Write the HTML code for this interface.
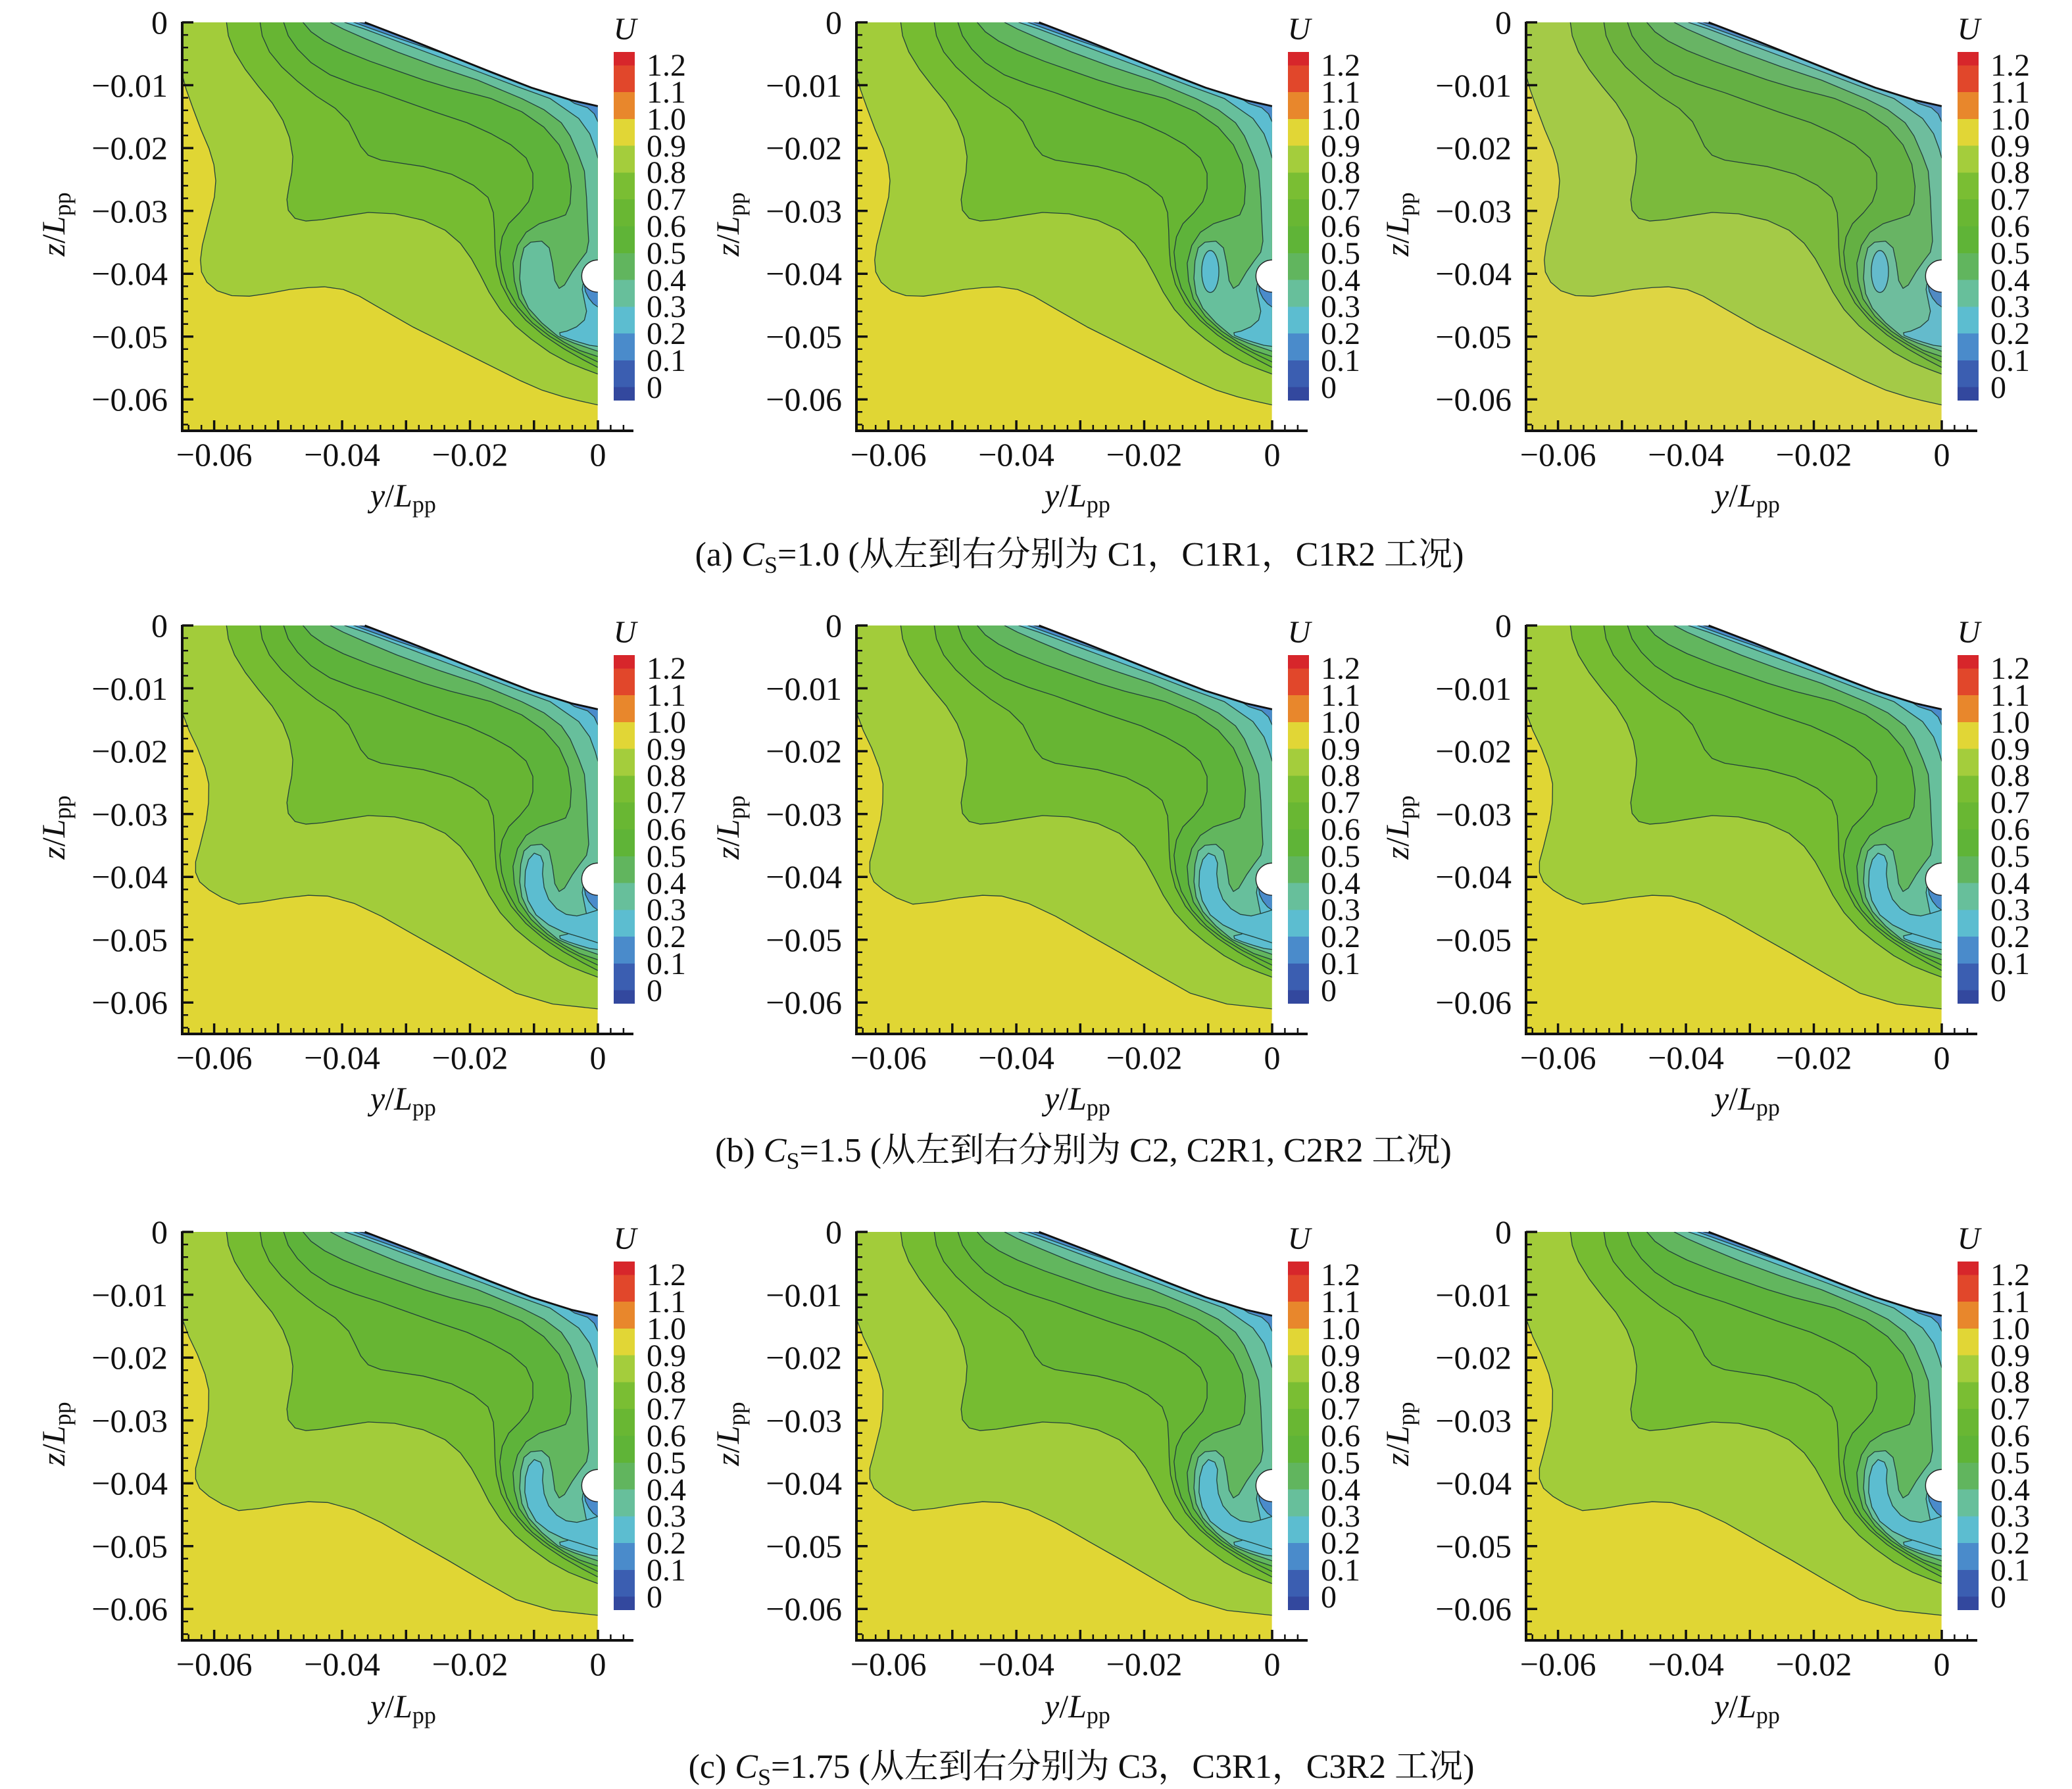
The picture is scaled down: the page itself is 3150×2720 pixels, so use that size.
<!DOCTYPE html>
<html>
<head>
<meta charset="utf-8">
<style>
html,body{margin:0;padding:0;background:#fff;}
svg{display:block;}
text{fill:#111;}
.t{font-size:50px;}
.cb{font-size:48px;}
.e{text-anchor:end;}
.m{text-anchor:middle;}
.i{font-style:italic;}
.s{font-size:36px;}
.cap{font-size:52px;}
.sub{font-size:36px;}
</style>
</head>
<body>
<svg xmlns="http://www.w3.org/2000/svg" width="3150" height="2720" viewBox="0 0 3150 2720" font-family="'Liberation Serif','Noto Serif CJK SC',serif">
<rect width="3150" height="2720" fill="#fff"/>
<defs>
<filter id="mute" x="-5%" y="-5%" width="110%" height="110%" color-interpolation-filters="sRGB"><feColorMatrix type="saturate" values="0.9"/></filter>
<clipPath id="cR"><path d="M0,0 L680,0 L850,65 L1000,125 L1150,185 L1300,243 L1450,290 L1548,312 L1548,885 A60,60 0 0 0 1548,1005 L1548,1520 L0,1520 Z"/></clipPath>

<g id="L1">
<path fill="#76bc31" d="M165,-60 L165,0 L172,50 L195,110 L235,175 L285,240 L335,300 L375,365 L400,430 L412,500 L408,560 L398,610 L390,660 L395,700 L420,730 L460,740 L520,735 L600,722 L693,708 L791,713 L898,737 L979,774 L1036,823 L1077,880 L1110,940 L1143,1005 L1185,1070 L1240,1130 L1300,1180 L1370,1230 L1440,1268 L1500,1292 L1548,1310 L1620,1310 L1620,-60 Z"/>
<path fill="#67b533" d="M290,-60 L290,0 L298,50 L325,110 L370,165 L430,220 L500,275 L570,320 L620,370 L645,420 L665,462 L693,495 L740,513 L791,521 L898,537 L1004,566 L1085,607 L1139,652 L1159,709 L1163,774 L1165,840 L1170,905 L1188,975 L1225,1045 L1280,1110 L1345,1165 L1420,1215 L1490,1255 L1548,1285 L1620,1285 L1620,-60 Z"/>
<path fill="#5eb33a" d="M378,-60 L378,0 L395,50 L430,100 L480,150 L550,195 L640,230 L740,262 L800,284 L938,333 L1061,374 L1151,415 L1224,456 L1281,505 L1306,562 L1306,619 L1290,668 L1257,709 L1216,750 L1192,799 L1183,856 L1190,921 L1210,990 L1250,1060 L1305,1120 L1370,1170 L1440,1212 L1500,1242 L1548,1265 L1620,1265 L1620,-60 Z"/>
<path fill="#62b65e" d="M450,-60 L450,0 L480,35 L530,70 L600,105 L700,145 L800,180 L900,215 L1000,245 L1100,270 L1151,284 L1265,333 L1347,390 L1404,456 L1437,529 L1449,611 L1445,676 L1428,717 L1396,729 L1330,750 L1281,782 L1249,831 L1232,897 L1237,962 L1255,1030 L1300,1095 L1360,1150 L1420,1190 L1480,1222 L1548,1245 L1620,1245 L1620,-60 Z"/>
<path fill="#67bf9c" d="M552,-60 L552,0 L600,25 L680,60 L800,110 L950,165 L1100,215 L1265,284 L1347,325 L1412,374 L1445,423 L1477,497 L1498,554 L1506,652 L1510,742 L1514,815 L1506,856 L1481,889 L1453,929 L1424,978 L1404,991 L1388,962 L1379,897 L1367,840 L1339,815 L1298,819 L1273,840 L1261,889 L1257,954 L1265,1011 L1290,1065 L1340,1120 L1400,1170 L1460,1195 L1510,1212 L1548,1225 L1620,1225 L1620,-60 Z"/>
<path fill="#5cbdd0" d="M605,-60 L605,0 L680,25 L760,55 L880,100 L1000,145 L1120,190 L1250,240 L1371,284 L1477,358 L1518,415 L1539,472 L1548,505 L1620,505 L1620,-60 Z"/>
<path fill="#5cbdd0" d="M1494,960 L1494,970 L1490,995 L1498,1036 L1506,1076 L1498,1109 L1469,1134 L1433,1150 L1406,1156 L1408,1166 L1437,1178 L1477,1191 L1518,1203 L1548,1207 L1620,1207 L1620,960 Z"/>
</g>

<g id="L2">
<path fill="#4a8bcb" d="M1498,960 L1498,978 L1502,1003 L1514,1027 L1531,1048 L1548,1060 L1620,1060 L1620,960 Z"/>
<path fill="#4a8bcb" d="M1400,262 L1461,302 L1510,318 L1535,341 L1548,370 L1620,370 L1620,100 L1400,100 Z"/>
<path fill="#4a8bcb" d="M620,-60 L620,-10 L640,0 L700,22 L800,58 L900,92 L980,118 L1040,135 L1040,-60 Z"/>
<path fill="#3b5cae" d="M645,-60 L645,-10 L662,0 L700,10 L740,20 L790,36 L790,-60 Z"/>
</g>

<g id="plotA" transform="scale(0.408163)">
<g clip-path="url(#cR)" stroke="#22403a" stroke-width="3.2" stroke-linejoin="round">
<rect x="0" y="0" width="1548" height="1520" fill="#e0d634" stroke="none"/>
<path fill="#a2cc3a" d="M0,195 L15,250 L40,320 L70,400 L100,470 L118,530 L125,590 L120,650 L105,710 L90,770 L75,830 L68,885 L72,930 L92,968 L130,1000 L185,1018 L250,1020 L320,1010 L400,995 L470,988 L530,985 L600,995 L660,1020 L720,1055 L790,1095 L860,1135 L940,1175 L1020,1215 L1100,1255 L1180,1295 L1260,1335 L1340,1370 L1420,1395 L1480,1410 L1548,1425 L1620,1425 L1620,-60 L-60,-60 L-60,195 Z"/>
<use href="#L1"/>
<use href="#L2"/>
</g>
<path d="M680,0 L850,65 L1000,125 L1150,185 L1300,243 L1450,290 L1548,312" fill="none" stroke="#111" stroke-width="7"/>
<path d="M1548,885 A60,60 0 0 0 1548,1005" fill="none" stroke="#222" stroke-width="3.5"/>
</g>

<g id="plotB" transform="scale(0.408163)">
<g clip-path="url(#cR)" stroke="#22403a" stroke-width="3.2" stroke-linejoin="round">
<rect x="0" y="0" width="1548" height="1520" fill="#e0d634" stroke="none"/>
<path fill="#a2cc3a" d="M0,323 L25,390 L57,457 L85,530 L99,590 L98,660 L90,724 L65,825 L50,880 L50,920 L65,955 L100,985 L150,1015 L210,1038 L290,1030 L380,1015 L470,1005 L542,1008 L640,1035 L742,1083 L860,1150 L993,1225 L1120,1300 L1244,1370 L1380,1410 L1548,1428 L1620,1428 L1620,-60 L-60,-60 L-60,323 Z"/>
<use href="#L1"/>
<path fill="#5cbdd0" d="M1311,848 L1290,872 L1278,915 L1276,970 L1288,1025 L1318,1078 L1365,1115 L1420,1142 L1480,1160 L1530,1176 L1548,1182 L1620,1182 L1620,1060 L1548,1060 L1510,1072 L1470,1082 L1430,1076 L1395,1055 L1365,1020 L1348,975 L1342,925 L1345,885 L1335,858 Z"/>
<use href="#L2"/>
</g>
<path d="M680,0 L850,65 L1000,125 L1150,185 L1300,243 L1450,290 L1548,312" fill="none" stroke="#111" stroke-width="7"/>
<path d="M1548,885 A60,60 0 0 0 1548,1005" fill="none" stroke="#222" stroke-width="3.5"/>
</g>

<g id="blobS" transform="scale(0.408163)">
<ellipse cx="1318" cy="928" rx="32" ry="78" fill="#5cbdd0" stroke="#22403a" stroke-width="3.2"/>
</g>

<g id="ax" fill="none" stroke="#111">
<path stroke-width="4" d="M0,-1V623M-2,621H686"/>
<path stroke-width="3.5" d="M0,0H17M0,95.5H17M0,191.1H17M0,286.6H17M0,382.2H17M0,477.7H17M0,573.2H17M48.6,621V605M145.8,621V605M243.1,621V605M340.3,621V605M437.5,621V605M534.8,621V605M632,621V605"/>
<path stroke-width="2.5" d="M0,19.1H9M0,38.2H9M0,57.3H9M0,76.4H9M0,114.6H9M0,133.8H9M0,152.9H9M0,172H9M0,210.2H9M0,229.3H9M0,248.4H9M0,267.5H9M0,305.7H9M0,324.8H9M0,343.9H9M0,363.1H9M0,401.3H9M0,420.4H9M0,439.5H9M0,458.6H9M0,496.8H9M0,515.9H9M0,535H9M0,554.1H9M0,592.3H9M0,611.5H9M670.9,621V612M651.4,621V612M612.6,621V612M593.1,621V612M573.7,621V612M554.2,621V612M515.3,621V612M495.9,621V612M476.4,621V612M457,621V612M418.1,621V612M398.6,621V612M379.2,621V612M359.8,621V612M320.9,621V612M301.4,621V612M282,621V612M262.5,621V612M223.6,621V612M204.2,621V612M184.7,621V612M165.3,621V612M126.4,621V612M106.9,621V612M87.5,621V612M68.1,621V612M29.2,621V612M9.7,621V612"/>
</g>

<g id="cbar" shape-rendering="crispEdges">
<rect x="656" y="45" width="32" height="20.4" fill="#d7262b"/>
<rect x="656" y="65.4" width="32" height="40.8" fill="#e1472b"/>
<rect x="656" y="106.2" width="32" height="40.7" fill="#e8872c"/>
<rect x="656" y="146.9" width="32" height="40.8" fill="#e1d636"/>
<rect x="656" y="187.7" width="32" height="40.8" fill="#a4cd3c"/>
<rect x="656" y="228.5" width="32" height="40.7" fill="#7abe33"/>
<rect x="656" y="269.2" width="32" height="40.8" fill="#69b733"/>
<rect x="656" y="310" width="32" height="40.8" fill="#5fb437"/>
<rect x="656" y="350.8" width="32" height="40.7" fill="#61b55e"/>
<rect x="656" y="391.5" width="32" height="40.8" fill="#67bf9b"/>
<rect x="656" y="432.3" width="32" height="40.8" fill="#5cbdd0"/>
<rect x="656" y="473.1" width="32" height="40.7" fill="#4a8bcb"/>
<rect x="656" y="513.8" width="32" height="40.8" fill="#3b5eb1"/>
<rect x="656" y="554.6" width="32" height="20.4" fill="#33489e"/>
</g>
</defs>

<!-- Row 1 -->
<g transform="translate(277,34)">
<use href="#plotA"/>
<use href="#ax"/><use href="#cbar"/>
<g class="t">
<text x="-22" y="17" class="e">0</text>
<text x="-22" y="113" class="e">−0.01</text>
<text x="-22" y="208" class="e">−0.02</text>
<text x="-22" y="304" class="e">−0.03</text>
<text x="-22" y="399" class="e">−0.04</text>
<text x="-22" y="495" class="e">−0.05</text>
<text x="-22" y="590" class="e">−0.06</text>
<text x="48.6" y="674" class="m">−0.06</text>
<text x="243.1" y="674" class="m">−0.04</text>
<text x="437.5" y="674" class="m">−0.02</text>
<text x="632" y="674" class="m">0</text>
<text x="673" y="26" class="m i" font-size="48">U</text>
<text x="286" y="736"><tspan class="i">y</tspan>/<tspan class="i">L</tspan><tspan class="s" dy="9">pp</tspan></text>
<text transform="translate(-179,307) rotate(-90)" class="m"><tspan class="i">z</tspan>/<tspan class="i">L</tspan><tspan class="s" dy="9">pp</tspan></text>
</g>
<g class="cb">
<text x="706" y="81">1.2</text><text x="706" y="122">1.1</text><text x="706" y="163">1.0</text><text x="706" y="204">0.9</text><text x="706" y="244">0.8</text><text x="706" y="285">0.7</text><text x="706" y="326">0.6</text><text x="706" y="367">0.5</text><text x="706" y="408">0.4</text><text x="706" y="448">0.3</text><text x="706" y="489">0.2</text><text x="706" y="530">0.1</text><text x="706" y="571">0</text>
</g>
</g>

<g transform="translate(1302,34)">
<use href="#plotA"/><use href="#blobS"/>
<use href="#ax"/><use href="#cbar"/>
<g class="t">
<text x="-22" y="17" class="e">0</text>
<text x="-22" y="113" class="e">−0.01</text>
<text x="-22" y="208" class="e">−0.02</text>
<text x="-22" y="304" class="e">−0.03</text>
<text x="-22" y="399" class="e">−0.04</text>
<text x="-22" y="495" class="e">−0.05</text>
<text x="-22" y="590" class="e">−0.06</text>
<text x="48.6" y="674" class="m">−0.06</text>
<text x="243.1" y="674" class="m">−0.04</text>
<text x="437.5" y="674" class="m">−0.02</text>
<text x="632" y="674" class="m">0</text>
<text x="673" y="26" class="m i" font-size="48">U</text>
<text x="286" y="736"><tspan class="i">y</tspan>/<tspan class="i">L</tspan><tspan class="s" dy="9">pp</tspan></text>
<text transform="translate(-179,307) rotate(-90)" class="m"><tspan class="i">z</tspan>/<tspan class="i">L</tspan><tspan class="s" dy="9">pp</tspan></text>
</g>
<g class="cb">
<text x="706" y="81">1.2</text><text x="706" y="122">1.1</text><text x="706" y="163">1.0</text><text x="706" y="204">0.9</text><text x="706" y="244">0.8</text><text x="706" y="285">0.7</text><text x="706" y="326">0.6</text><text x="706" y="367">0.5</text><text x="706" y="408">0.4</text><text x="706" y="448">0.3</text><text x="706" y="489">0.2</text><text x="706" y="530">0.1</text><text x="706" y="571">0</text>
</g>
</g>

<g transform="translate(2320,34)">
<g filter="url(#mute)"><use href="#plotA"/><use href="#blobS"/></g>
<use href="#ax"/><use href="#cbar"/>
<g class="t">
<text x="-22" y="17" class="e">0</text>
<text x="-22" y="113" class="e">−0.01</text>
<text x="-22" y="208" class="e">−0.02</text>
<text x="-22" y="304" class="e">−0.03</text>
<text x="-22" y="399" class="e">−0.04</text>
<text x="-22" y="495" class="e">−0.05</text>
<text x="-22" y="590" class="e">−0.06</text>
<text x="48.6" y="674" class="m">−0.06</text>
<text x="243.1" y="674" class="m">−0.04</text>
<text x="437.5" y="674" class="m">−0.02</text>
<text x="632" y="674" class="m">0</text>
<text x="673" y="26" class="m i" font-size="48">U</text>
<text x="286" y="736"><tspan class="i">y</tspan>/<tspan class="i">L</tspan><tspan class="s" dy="9">pp</tspan></text>
<text transform="translate(-179,307) rotate(-90)" class="m"><tspan class="i">z</tspan>/<tspan class="i">L</tspan><tspan class="s" dy="9">pp</tspan></text>
</g>
<g class="cb">
<text x="706" y="81">1.2</text><text x="706" y="122">1.1</text><text x="706" y="163">1.0</text><text x="706" y="204">0.9</text><text x="706" y="244">0.8</text><text x="706" y="285">0.7</text><text x="706" y="326">0.6</text><text x="706" y="367">0.5</text><text x="706" y="408">0.4</text><text x="706" y="448">0.3</text><text x="706" y="489">0.2</text><text x="706" y="530">0.1</text><text x="706" y="571">0</text>
</g>
</g>

<text x="1641" y="860" class="cap m">(a) <tspan class="i">C</tspan><tspan class="sub" dy="11">S</tspan><tspan dy="-11">=1.0 (从左到右分别为 C1，C1R1，C1R2 工况)</tspan></text>

<!-- Row 2 -->
<g transform="translate(277,951)">
<use href="#plotB"/>
<use href="#ax"/><use href="#cbar"/>
<g class="t">
<text x="-22" y="17" class="e">0</text>
<text x="-22" y="113" class="e">−0.01</text>
<text x="-22" y="208" class="e">−0.02</text>
<text x="-22" y="304" class="e">−0.03</text>
<text x="-22" y="399" class="e">−0.04</text>
<text x="-22" y="495" class="e">−0.05</text>
<text x="-22" y="590" class="e">−0.06</text>
<text x="48.6" y="674" class="m">−0.06</text>
<text x="243.1" y="674" class="m">−0.04</text>
<text x="437.5" y="674" class="m">−0.02</text>
<text x="632" y="674" class="m">0</text>
<text x="673" y="26" class="m i" font-size="48">U</text>
<text x="286" y="736"><tspan class="i">y</tspan>/<tspan class="i">L</tspan><tspan class="s" dy="9">pp</tspan></text>
<text transform="translate(-179,307) rotate(-90)" class="m"><tspan class="i">z</tspan>/<tspan class="i">L</tspan><tspan class="s" dy="9">pp</tspan></text>
</g>
<g class="cb">
<text x="706" y="81">1.2</text><text x="706" y="122">1.1</text><text x="706" y="163">1.0</text><text x="706" y="204">0.9</text><text x="706" y="244">0.8</text><text x="706" y="285">0.7</text><text x="706" y="326">0.6</text><text x="706" y="367">0.5</text><text x="706" y="408">0.4</text><text x="706" y="448">0.3</text><text x="706" y="489">0.2</text><text x="706" y="530">0.1</text><text x="706" y="571">0</text>
</g>
</g>

<g transform="translate(1302,951)">
<use href="#plotB"/>
<use href="#ax"/><use href="#cbar"/>
<g class="t">
<text x="-22" y="17" class="e">0</text>
<text x="-22" y="113" class="e">−0.01</text>
<text x="-22" y="208" class="e">−0.02</text>
<text x="-22" y="304" class="e">−0.03</text>
<text x="-22" y="399" class="e">−0.04</text>
<text x="-22" y="495" class="e">−0.05</text>
<text x="-22" y="590" class="e">−0.06</text>
<text x="48.6" y="674" class="m">−0.06</text>
<text x="243.1" y="674" class="m">−0.04</text>
<text x="437.5" y="674" class="m">−0.02</text>
<text x="632" y="674" class="m">0</text>
<text x="673" y="26" class="m i" font-size="48">U</text>
<text x="286" y="736"><tspan class="i">y</tspan>/<tspan class="i">L</tspan><tspan class="s" dy="9">pp</tspan></text>
<text transform="translate(-179,307) rotate(-90)" class="m"><tspan class="i">z</tspan>/<tspan class="i">L</tspan><tspan class="s" dy="9">pp</tspan></text>
</g>
<g class="cb">
<text x="706" y="81">1.2</text><text x="706" y="122">1.1</text><text x="706" y="163">1.0</text><text x="706" y="204">0.9</text><text x="706" y="244">0.8</text><text x="706" y="285">0.7</text><text x="706" y="326">0.6</text><text x="706" y="367">0.5</text><text x="706" y="408">0.4</text><text x="706" y="448">0.3</text><text x="706" y="489">0.2</text><text x="706" y="530">0.1</text><text x="706" y="571">0</text>
</g>
</g>

<g transform="translate(2320,951)">
<use href="#plotB"/>
<use href="#ax"/><use href="#cbar"/>
<g class="t">
<text x="-22" y="17" class="e">0</text>
<text x="-22" y="113" class="e">−0.01</text>
<text x="-22" y="208" class="e">−0.02</text>
<text x="-22" y="304" class="e">−0.03</text>
<text x="-22" y="399" class="e">−0.04</text>
<text x="-22" y="495" class="e">−0.05</text>
<text x="-22" y="590" class="e">−0.06</text>
<text x="48.6" y="674" class="m">−0.06</text>
<text x="243.1" y="674" class="m">−0.04</text>
<text x="437.5" y="674" class="m">−0.02</text>
<text x="632" y="674" class="m">0</text>
<text x="673" y="26" class="m i" font-size="48">U</text>
<text x="286" y="736"><tspan class="i">y</tspan>/<tspan class="i">L</tspan><tspan class="s" dy="9">pp</tspan></text>
<text transform="translate(-179,307) rotate(-90)" class="m"><tspan class="i">z</tspan>/<tspan class="i">L</tspan><tspan class="s" dy="9">pp</tspan></text>
</g>
<g class="cb">
<text x="706" y="81">1.2</text><text x="706" y="122">1.1</text><text x="706" y="163">1.0</text><text x="706" y="204">0.9</text><text x="706" y="244">0.8</text><text x="706" y="285">0.7</text><text x="706" y="326">0.6</text><text x="706" y="367">0.5</text><text x="706" y="408">0.4</text><text x="706" y="448">0.3</text><text x="706" y="489">0.2</text><text x="706" y="530">0.1</text><text x="706" y="571">0</text>
</g>
</g>

<text x="1647" y="1766" class="cap m">(b) <tspan class="i">C</tspan><tspan class="sub" dy="11">S</tspan><tspan dy="-11">=1.5 (从左到右分别为 C2, C2R1, C2R2 工况)</tspan></text>

<!-- Row 3 -->
<g transform="translate(277,1873)">
<use href="#plotB"/>
<use href="#ax"/><use href="#cbar"/>
<g class="t">
<text x="-22" y="17" class="e">0</text>
<text x="-22" y="113" class="e">−0.01</text>
<text x="-22" y="208" class="e">−0.02</text>
<text x="-22" y="304" class="e">−0.03</text>
<text x="-22" y="399" class="e">−0.04</text>
<text x="-22" y="495" class="e">−0.05</text>
<text x="-22" y="590" class="e">−0.06</text>
<text x="48.6" y="674" class="m">−0.06</text>
<text x="243.1" y="674" class="m">−0.04</text>
<text x="437.5" y="674" class="m">−0.02</text>
<text x="632" y="674" class="m">0</text>
<text x="673" y="26" class="m i" font-size="48">U</text>
<text x="286" y="738"><tspan class="i">y</tspan>/<tspan class="i">L</tspan><tspan class="s" dy="9">pp</tspan></text>
<text transform="translate(-179,307) rotate(-90)" class="m"><tspan class="i">z</tspan>/<tspan class="i">L</tspan><tspan class="s" dy="9">pp</tspan></text>
</g>
<g class="cb">
<text x="706" y="81">1.2</text><text x="706" y="122">1.1</text><text x="706" y="163">1.0</text><text x="706" y="204">0.9</text><text x="706" y="244">0.8</text><text x="706" y="285">0.7</text><text x="706" y="326">0.6</text><text x="706" y="367">0.5</text><text x="706" y="408">0.4</text><text x="706" y="448">0.3</text><text x="706" y="489">0.2</text><text x="706" y="530">0.1</text><text x="706" y="571">0</text>
</g>
</g>

<g transform="translate(1302,1873)">
<use href="#plotB"/>
<use href="#ax"/><use href="#cbar"/>
<g class="t">
<text x="-22" y="17" class="e">0</text>
<text x="-22" y="113" class="e">−0.01</text>
<text x="-22" y="208" class="e">−0.02</text>
<text x="-22" y="304" class="e">−0.03</text>
<text x="-22" y="399" class="e">−0.04</text>
<text x="-22" y="495" class="e">−0.05</text>
<text x="-22" y="590" class="e">−0.06</text>
<text x="48.6" y="674" class="m">−0.06</text>
<text x="243.1" y="674" class="m">−0.04</text>
<text x="437.5" y="674" class="m">−0.02</text>
<text x="632" y="674" class="m">0</text>
<text x="673" y="26" class="m i" font-size="48">U</text>
<text x="286" y="738"><tspan class="i">y</tspan>/<tspan class="i">L</tspan><tspan class="s" dy="9">pp</tspan></text>
<text transform="translate(-179,307) rotate(-90)" class="m"><tspan class="i">z</tspan>/<tspan class="i">L</tspan><tspan class="s" dy="9">pp</tspan></text>
</g>
<g class="cb">
<text x="706" y="81">1.2</text><text x="706" y="122">1.1</text><text x="706" y="163">1.0</text><text x="706" y="204">0.9</text><text x="706" y="244">0.8</text><text x="706" y="285">0.7</text><text x="706" y="326">0.6</text><text x="706" y="367">0.5</text><text x="706" y="408">0.4</text><text x="706" y="448">0.3</text><text x="706" y="489">0.2</text><text x="706" y="530">0.1</text><text x="706" y="571">0</text>
</g>
</g>

<g transform="translate(2320,1873)">
<use href="#plotB"/>
<use href="#ax"/><use href="#cbar"/>
<g class="t">
<text x="-22" y="17" class="e">0</text>
<text x="-22" y="113" class="e">−0.01</text>
<text x="-22" y="208" class="e">−0.02</text>
<text x="-22" y="304" class="e">−0.03</text>
<text x="-22" y="399" class="e">−0.04</text>
<text x="-22" y="495" class="e">−0.05</text>
<text x="-22" y="590" class="e">−0.06</text>
<text x="48.6" y="674" class="m">−0.06</text>
<text x="243.1" y="674" class="m">−0.04</text>
<text x="437.5" y="674" class="m">−0.02</text>
<text x="632" y="674" class="m">0</text>
<text x="673" y="26" class="m i" font-size="48">U</text>
<text x="286" y="738"><tspan class="i">y</tspan>/<tspan class="i">L</tspan><tspan class="s" dy="9">pp</tspan></text>
<text transform="translate(-179,307) rotate(-90)" class="m"><tspan class="i">z</tspan>/<tspan class="i">L</tspan><tspan class="s" dy="9">pp</tspan></text>
</g>
<g class="cb">
<text x="706" y="81">1.2</text><text x="706" y="122">1.1</text><text x="706" y="163">1.0</text><text x="706" y="204">0.9</text><text x="706" y="244">0.8</text><text x="706" y="285">0.7</text><text x="706" y="326">0.6</text><text x="706" y="367">0.5</text><text x="706" y="408">0.4</text><text x="706" y="448">0.3</text><text x="706" y="489">0.2</text><text x="706" y="530">0.1</text><text x="706" y="571">0</text>
</g>
</g>

<text x="1644" y="2703" class="cap m">(c) <tspan class="i">C</tspan><tspan class="sub" dy="11">S</tspan><tspan dy="-11">=1.75 (从左到右分别为 C3，C3R1，C3R2 工况)</tspan></text>
</svg>
</body>
</html>
